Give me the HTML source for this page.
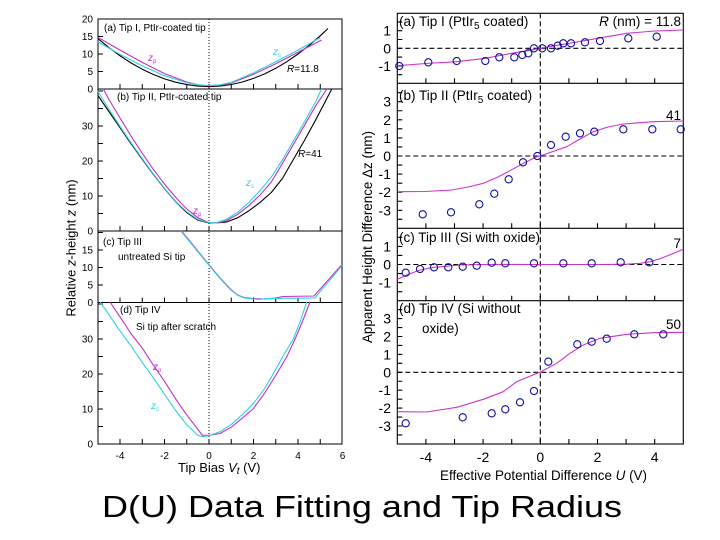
<!DOCTYPE html>
<html><head><meta charset="utf-8"><style>
html,body{margin:0;padding:0;background:#fff;}
svg{display:block;font-family:"Liberation Sans",Arial,sans-serif;}
</style></head><body>
<svg width="720" height="540" viewBox="0 0 720 540" xmlns="http://www.w3.org/2000/svg">
<rect x="0" y="0" width="720" height="540" fill="#fff"/>

<!-- ================= LEFT CHART ================= -->
<g fill="none" stroke="#000" stroke-width="1">
  <rect x="98" y="19" width="244" height="425"/>
  <path d="M98,89H342M98,231H342M98,302.5H342"/>
  <path d="M209,19V444" stroke-dasharray="1,2"/>
  <!-- x ticks -->
  <path d="M120,89v-5M142.25,89v-5M164.5,89v-5M186.75,89v-5M209,89v-5M231.25,89v-5M253.5,89v-5M275.75,89v-5M298,89v-5M320.25,89v-5
  M120,231v-5M142.25,231v-5M164.5,231v-5M186.75,231v-5M209,231v-5M231.25,231v-5M253.5,231v-5M275.75,231v-5M298,231v-5M320.25,231v-5
  M120,302.5v-5M142.25,302.5v-5M164.5,302.5v-5M186.75,302.5v-5M209,302.5v-5M231.25,302.5v-5M253.5,302.5v-5M275.75,302.5v-5M298,302.5v-5M320.25,302.5v-5
  M120,444v-5M142.25,444v-5M164.5,444v-5M186.75,444v-5M209,444v-5M231.25,444v-5M253.5,444v-5M275.75,444v-5M298,444v-5M320.25,444v-5"/>
  <!-- y ticks -->
  <path d="M98,71.5h5M98,54h5M98,36.5h5
  M98,213.5h5M98,196h5M98,178.5h5M98,161h5M98,143.5h5M98,126h5M98,108.5h5M98,91h5
  M98,285h5M98,267.5h5M98,250h5M98,232.5h5
  M98,426.5h5M98,409h5M98,391.5h5M98,374h5M98,356.5h5M98,339h5M98,321.5h5M98,304h5"/>
</g>

<!-- left y tick labels -->
<g font-size="10" text-anchor="end" fill="#000">
  <text x="93" y="22.5">20</text><text x="93" y="40">15</text><text x="93" y="57.5">10</text><text x="93" y="75">5</text><text x="93" y="92.5">0</text>
  <text x="93" y="129.5">30</text><text x="93" y="164.5">20</text><text x="93" y="199.5">10</text><text x="93" y="234.5">0</text>
  <text x="93" y="253.5">15</text><text x="93" y="271">10</text><text x="93" y="288.5">5</text><text x="93" y="306">0</text>
  <text x="93" y="342.5">30</text><text x="93" y="377.5">20</text><text x="93" y="412.5">10</text><text x="93" y="447.5">0</text>
</g>
<!-- left x tick labels -->
<g font-size="10" text-anchor="middle" fill="#000">
  <text x="120" y="459">-4</text><text x="164.5" y="459">-2</text><text x="209" y="459">0</text>
  <text x="253.5" y="459">2</text><text x="298" y="459">4</text><text x="342.5" y="459">6</text>
</g>
<text x="178" y="472" font-size="13" fill="#000">Tip Bias <tspan font-style="italic">V</tspan><tspan font-style="italic" font-size="10" dy="2">t</tspan><tspan dy="-2"> (V)</tspan></text>
<text transform="translate(75.5,248) rotate(-90)" font-size="13" text-anchor="middle" fill="#000">Relative <tspan font-style="italic">z</tspan>-height <tspan font-style="italic">z</tspan> (nm)</text>

<!-- left curves -->
<g fill="none" stroke-width="1.1" stroke-linejoin="round">
  <!-- panel a -->
  <path stroke="#000" d="M97.75,38.4 L108.9,47.55 L120,55.75 L131.1,63 L142.25,69.2 L153.4,74.5 L164.5,78.85 L175.6,82.2 L186.75,84.6 L197.9,86.1 L209,86.55 L220.1,86.05 L231.25,84.5 L242.4,82 L253.5,78.4 L264.6,73.9 L275.75,68.3 L286.9,61.7 L298,54 L309.1,45.4 L320.25,35.8 L328,28.5"/>
  <path stroke="#c030c8" d="M97.75,37.2 L120,50.15 L142.25,62.4 L164.5,73.6 L186.75,82 L197.9,84.8 L209,85.85 L220.1,85.15 L231.25,83.05 L253.5,74.3 L275.75,63.8 L298,52.25 L321.6,40"/>
  <path stroke="#30d0e0" d="M97.75,41.75 L120,54.35 L142.25,65.9 L164.5,75.7 L186.75,82.7 L197.9,84.8 L209,85.5 L220.1,84.8 L231.25,82.35 L253.5,72.9 L275.75,61.7 L298,50.15 L320.25,37.55"/>
  <!-- panel b -->
  <path stroke="#000" d="M97.75,95.2 L108.9,111.6 L120,127.7 L131.1,143.85 L142.25,159.25 L153.4,174.4 L164.5,188.65 L175.6,201.6 L186.75,212.55 L197.9,220.15 L209,222.95 L215.7,222.95 L226.8,221.9 L237.9,217.7 L249,210.7 L260.2,202.3 L271.3,192.5 L282.4,178.5 L293.5,159.25 L304.7,140 L315.8,119.7 L331.8,89"/>
  <path stroke="#c030c8" d="M103.3,88.9 L108.9,99.4 L120,117.95 L131.1,136.15 L142.25,153.3 L153.4,169.4 L164.5,184.1 L175.6,197.4 L186.75,208.95 L197.9,217.7 L209,222.6 L217.9,222.95 L226.8,220.5 L237.9,214.2 L249.05,205.45 L260.2,194.95 L271.3,182 L282.4,163.45 L293.55,144.2 L304.7,124.95 L315.8,105.7 L326.9,88.9"/>
  <path stroke="#30d0e0" d="M97.75,91 L108.9,109.2 L120,126.35 L131.1,142.8 L142.25,158.55 L153.4,173.95 L164.5,188.3 L175.6,201.25 L186.75,211.75 L197.9,219.45 L209,222.6 L215.7,222.95 L226.8,219.1 L237.9,212.1 L249.05,202.3 L260.2,190.4 L271.3,177.1 L282.4,159.95 L293.55,140.7 L304.7,121.45 L315.8,101.5 L321.6,88.9"/>
  <!-- panel c -->
  <path stroke="#c030c8" d="M181.6,231.1 L186.75,237.4 L197.9,251.05 L209,264.7 L220.1,278 L231.25,289.9 L237.9,295.15 L244.6,297.6 L253.5,298.65 L264.6,299 L275.75,298 L283,296.5 L314,296 L342,264.5"/>
  <path stroke="#30d0e0" d="M181,231.1 L186.3,237.6 L197.5,251.3 L208.6,264.9 L219.8,278.2 L231,290.2 L237.9,295.5 L244.6,298 L253.5,299 L260,299.5 L264.6,298.6 L275.75,298.4 L286.9,298.2 L298,298.2 L314.9,297.9 L320.25,291.5 L331.4,278.3 L342,265.5"/>
  <!-- panel d -->
  <path stroke="#c030c8" d="M110,301.9 L120,316.95 L131.1,333.75 L142.25,348.1 L153.4,365.25 L164.5,381.35 L175.6,398.85 L186.75,414.95 L197.9,429.3 L202.3,435.25 L209,435.25 L220.1,433.5 L231.25,427.2 L242.4,418.1 L253.05,409 L264.6,393.25 L276.6,374 L286.9,356.5 L295.1,339 L302.45,321.5 L310,301.9"/>
  <path stroke="#30d0e0" d="M100,301.9 L108.9,314.5 L120,330.95 L131.1,346 L142.25,362.45 L153.4,377.85 L164.5,394.3 L175.6,410.4 L186.75,424.75 L197.9,435.25 L202.3,436.65 L209,435.6 L220.1,431.75 L231.25,424.4 L242.4,414.6 L253.5,403.4 L264.6,388.7 L273.1,374 L282.4,357.2 L293.3,339 L300.2,321.5 L306.7,301.9"/>
</g>

<!-- left annotations -->
<g font-size="10" fill="#000">
  <text x="104" y="31">(a) Tip I,  PtIr-coated tip</text>
  <text x="117" y="100">(b) Tip II,  PtIr-coated tip</text>
  <text x="103" y="245">(c) Tip III</text>
  <text x="118" y="260">untreated Si tip</text>
  <text x="120" y="313">(d) Tip IV</text>
  <text x="136" y="330">Si tip after scratch</text>
  <text x="287" y="72"><tspan font-style="italic">R</tspan>=11.8</text>
  <text x="298" y="157"><tspan font-style="italic">R</tspan>=41</text>
</g>
<g font-size="10" font-style="italic">
  <text x="148" y="61" fill="#c030c8">z<tspan font-size="6" dy="2">p</tspan></text>
  <text x="273" y="55" fill="#30d0e0">z<tspan font-size="6" dy="2">s</tspan></text>
  <text x="193" y="214" fill="#c030c8">z<tspan font-size="6" dy="2">p</tspan></text>
  <text x="246" y="186" fill="#30d0e0">z<tspan font-size="6" dy="2">s</tspan></text>
  <text x="153" y="370" fill="#c030c8">z<tspan font-size="6" dy="2">p</tspan></text>
  <text x="151" y="409" fill="#30d0e0">z<tspan font-size="6" dy="2">s</tspan></text>
</g>

<!-- ================= RIGHT CHART ================= -->
<g fill="none" stroke="#000" stroke-width="1.1">
  <rect x="397.3" y="13.3" width="286" height="430.7"/>
  <path d="M397.3,83.3H683.3M397.3,228.3H683.3M397.3,300.7H683.3"/>
  <path d="M540.3,13.3V444M397.3,48.3H683.3M397.3,156H683.3M397.3,264.5H683.3M397.3,372.3H683.3" stroke-dasharray="5,3"/>
  <!-- x ticks -->
  <path d="M425.9,83.3v-5M454.5,83.3v-5M483.1,83.3v-5M511.7,83.3v-5M540.3,83.3v-5M568.9,83.3v-5M597.5,83.3v-5M626.1,83.3v-5M654.7,83.3v-5
  M425.9,228.3v-5M454.5,228.3v-5M483.1,228.3v-5M511.7,228.3v-5M540.3,228.3v-5M568.9,228.3v-5M597.5,228.3v-5M626.1,228.3v-5M654.7,228.3v-5
  M425.9,300.7v-5M454.5,300.7v-5M483.1,300.7v-5M511.7,300.7v-5M540.3,300.7v-5M568.9,300.7v-5M597.5,300.7v-5M626.1,300.7v-5M654.7,300.7v-5
  M425.9,444v-5M454.5,444v-5M483.1,444v-5M511.7,444v-5M540.3,444v-5M568.9,444v-5M597.5,444v-5M626.1,444v-5M654.7,444v-5"/>
  <!-- y ticks -->
  <path d="M397.3,74.7h5M397.3,65.9h5M397.3,57.1h5M397.3,48.3h5M397.3,39.5h5M397.3,30.7h5M397.3,21.9h5
  M397.3,219.35h5M397.3,210.3h5M397.3,201.25h5M397.3,192.2h5M397.3,183.15h5M397.3,174.1h5M397.3,165.05h5M397.3,156h5M397.3,146.95h5M397.3,137.9h5M397.3,128.85h5M397.3,119.8h5M397.3,110.75h5M397.3,101.7h5M397.3,92.65h5
  M397.3,291.65h5M397.3,282.6h5M397.3,273.55h5M397.3,264.5h5M397.3,255.45h5M397.3,246.4h5M397.3,237.35h5
  M397.3,434.95h5M397.3,426h5M397.3,417.05h5M397.3,408.1h5M397.3,399.15h5M397.3,390.2h5M397.3,381.25h5M397.3,372.3h5M397.3,363.35h5M397.3,354.4h5M397.3,345.45h5M397.3,336.5h5M397.3,327.55h5M397.3,318.6h5M397.3,309.65h5"/>
</g>

<!-- right y tick labels -->
<g font-size="14" text-anchor="end" fill="#000">
  <text x="391" y="35.7">1</text><text x="391" y="53.3">0</text><text x="391" y="70.9">-1</text>
  <text x="391" y="106.7">3</text><text x="391" y="124.8">2</text><text x="391" y="142.9">1</text><text x="391" y="161">0</text><text x="391" y="179.1">-1</text><text x="391" y="197.2">-2</text><text x="391" y="215.3">-3</text>
  <text x="391" y="251.4">1</text><text x="391" y="269.5">0</text><text x="391" y="287.6">-1</text>
  <text x="391" y="323.6">3</text><text x="391" y="341.5">2</text><text x="391" y="359.4">1</text><text x="391" y="377.3">0</text><text x="391" y="395.2">-1</text><text x="391" y="413.1">-2</text><text x="391" y="431">-3</text>
</g>
<!-- right x tick labels -->
<g font-size="14" text-anchor="middle" fill="#000">
  <text x="425.9" y="462">-4</text><text x="483.1" y="462">-2</text><text x="540.3" y="462">0</text><text x="597.5" y="462">2</text><text x="654.7" y="462">4</text>
</g>
<text x="440" y="480" font-size="14" fill="#000" textLength="207" lengthAdjust="spacingAndGlyphs">Effective Potential Difference <tspan font-style="italic">U</tspan> (V)</text>
<text transform="translate(372,237) rotate(-90)" font-size="13.5" text-anchor="middle" fill="#000" textLength="212" lengthAdjust="spacingAndGlyphs">Apparent Height Difference Δz (nm)</text>

<!-- right fits -->
<g fill="none" stroke="#cc33cc" stroke-width="1.1" stroke-linejoin="round">
  <path d="M397.3,65.7 L426,63.5 L456.7,61.7 L485.3,58.3 L511.7,53.3 L540,48.3 L569.3,43.3 L597.7,38.3 L626.7,33.3 L654.7,31 L683.3,30"/>
  <path d="M397.3,191.7 L425,191.5 L451.7,190 L468,187 L483.3,183.3 L497,177.5 L510,170.7 L523,163.5 L536.7,156.7 L540,156 L553,151.5 L566.7,146.7 L580,139 L593.3,131.7 L608,127 L623.3,124 L653.3,121.7 L683.3,121"/>
  <path d="M397.3,279.3 L408,274.5 L420,270 L434,267.3 L460,265 L493.3,264.4 L540,264.5 L600,264.5 L626.7,264.2 L640,263.3 L650,261.7 L660,258.8 L670,254.8 L683.3,249.3"/>
  <path d="M397.3,411.7 L426.7,412 L456.7,407.3 L483.3,399.3 L503.3,391.7 L516.7,381.7 L528,377 L540.3,372 L556.7,363.3 L570,353.3 L583.3,345 L600,338.3 L626.7,334.3 L653.3,332.7 L683.3,332.3"/>
</g>

<!-- right markers -->
<g fill="none" stroke="#1010a0" stroke-width="1.1">
  <circle cx="399.3" cy="66" r="3.6"/><circle cx="428.3" cy="62.3" r="3.6"/><circle cx="456.7" cy="61" r="3.6"/><circle cx="485.3" cy="61" r="3.6"/><circle cx="499.3" cy="57.3" r="3.6"/><circle cx="514.3" cy="57.3" r="3.6"/><circle cx="522.3" cy="55" r="3.6"/><circle cx="528.3" cy="53.3" r="3.6"/><circle cx="534" cy="48.3" r="3.6"/><circle cx="542.3" cy="48.3" r="3.6"/><circle cx="551" cy="48.3" r="3.6"/><circle cx="557.7" cy="45.7" r="3.6"/><circle cx="563.3" cy="43.3" r="3.6"/><circle cx="571" cy="43.3" r="3.6"/><circle cx="585" cy="42.3" r="3.6"/><circle cx="600" cy="41" r="3.6"/><circle cx="628.3" cy="38.3" r="3.6"/><circle cx="656.7" cy="36.7" r="3.6"/>

  <circle cx="422.7" cy="214.3" r="3.6"/><circle cx="451" cy="212.3" r="3.6"/><circle cx="479.3" cy="204.3" r="3.6"/><circle cx="494.3" cy="193.7" r="3.6"/><circle cx="508.7" cy="179.3" r="3.6"/><circle cx="523" cy="162.3" r="3.6"/><circle cx="537.3" cy="156" r="3.6"/><circle cx="551" cy="145" r="3.6"/><circle cx="565.7" cy="136.7" r="3.6"/><circle cx="580" cy="133.3" r="3.6"/><circle cx="594.3" cy="131.7" r="3.6"/><circle cx="623.3" cy="129.3" r="3.6"/><circle cx="652.3" cy="129.3" r="3.6"/><circle cx="680.7" cy="129.3" r="3.6"/>

  <circle cx="405.7" cy="272.7" r="3.6"/><circle cx="420" cy="269" r="3.6"/><circle cx="434" cy="267.3" r="3.6"/><circle cx="448.3" cy="267.3" r="3.6"/><circle cx="462.7" cy="266.7" r="3.6"/><circle cx="476.7" cy="265.7" r="3.6"/><circle cx="491.7" cy="262.7" r="3.6"/><circle cx="505.3" cy="263.3" r="3.6"/><circle cx="534" cy="263.3" r="3.6"/><circle cx="563.3" cy="263.3" r="3.6"/><circle cx="591.7" cy="263.3" r="3.6"/><circle cx="620.7" cy="262.3" r="3.6"/><circle cx="649.3" cy="262.3" r="3.6"/>

  <circle cx="405.7" cy="423.3" r="3.6"/><circle cx="462.7" cy="417.3" r="3.6"/><circle cx="491.7" cy="413.3" r="3.6"/><circle cx="505.3" cy="409.3" r="3.6"/><circle cx="520" cy="402.3" r="3.6"/><circle cx="534" cy="391" r="3.6"/><circle cx="548.3" cy="361.7" r="3.6"/><circle cx="577.3" cy="344.3" r="3.6"/><circle cx="591.7" cy="341.7" r="3.6"/><circle cx="606.7" cy="338.7" r="3.6"/><circle cx="634.3" cy="334.3" r="3.6"/><circle cx="663.3" cy="334.3" r="3.6"/>
</g>

<!-- right annotations -->
<g font-size="13.5" fill="#000">
  <text x="399" y="26">(a) Tip I (PtIr<tspan font-size="10" dy="3">5</tspan><tspan dy="-3"> coated)</tspan></text>
  <text x="681" y="26" text-anchor="end"><tspan font-style="italic">R</tspan> (nm) = 11.8</text>
  <text x="399" y="100">(b) Tip II (PtIr<tspan font-size="10" dy="3">5</tspan><tspan dy="-3"> coated)</tspan></text>
  <text x="681" y="120" text-anchor="end">41</text>
  <text x="399" y="242">(c) Tip III (Si with oxide)</text>
  <text x="681" y="248" text-anchor="end">7</text>
  <text x="399" y="313">(d) Tip IV (Si without</text>
  <text x="422" y="333">oxide)</text>
  <text x="681" y="329" text-anchor="end">50</text>
</g>

<!-- title -->
<text x="102" y="517" font-size="31" fill="#000" textLength="520" lengthAdjust="spacingAndGlyphs">D(U) Data Fitting and Tip Radius</text>
</svg>
</body></html>
